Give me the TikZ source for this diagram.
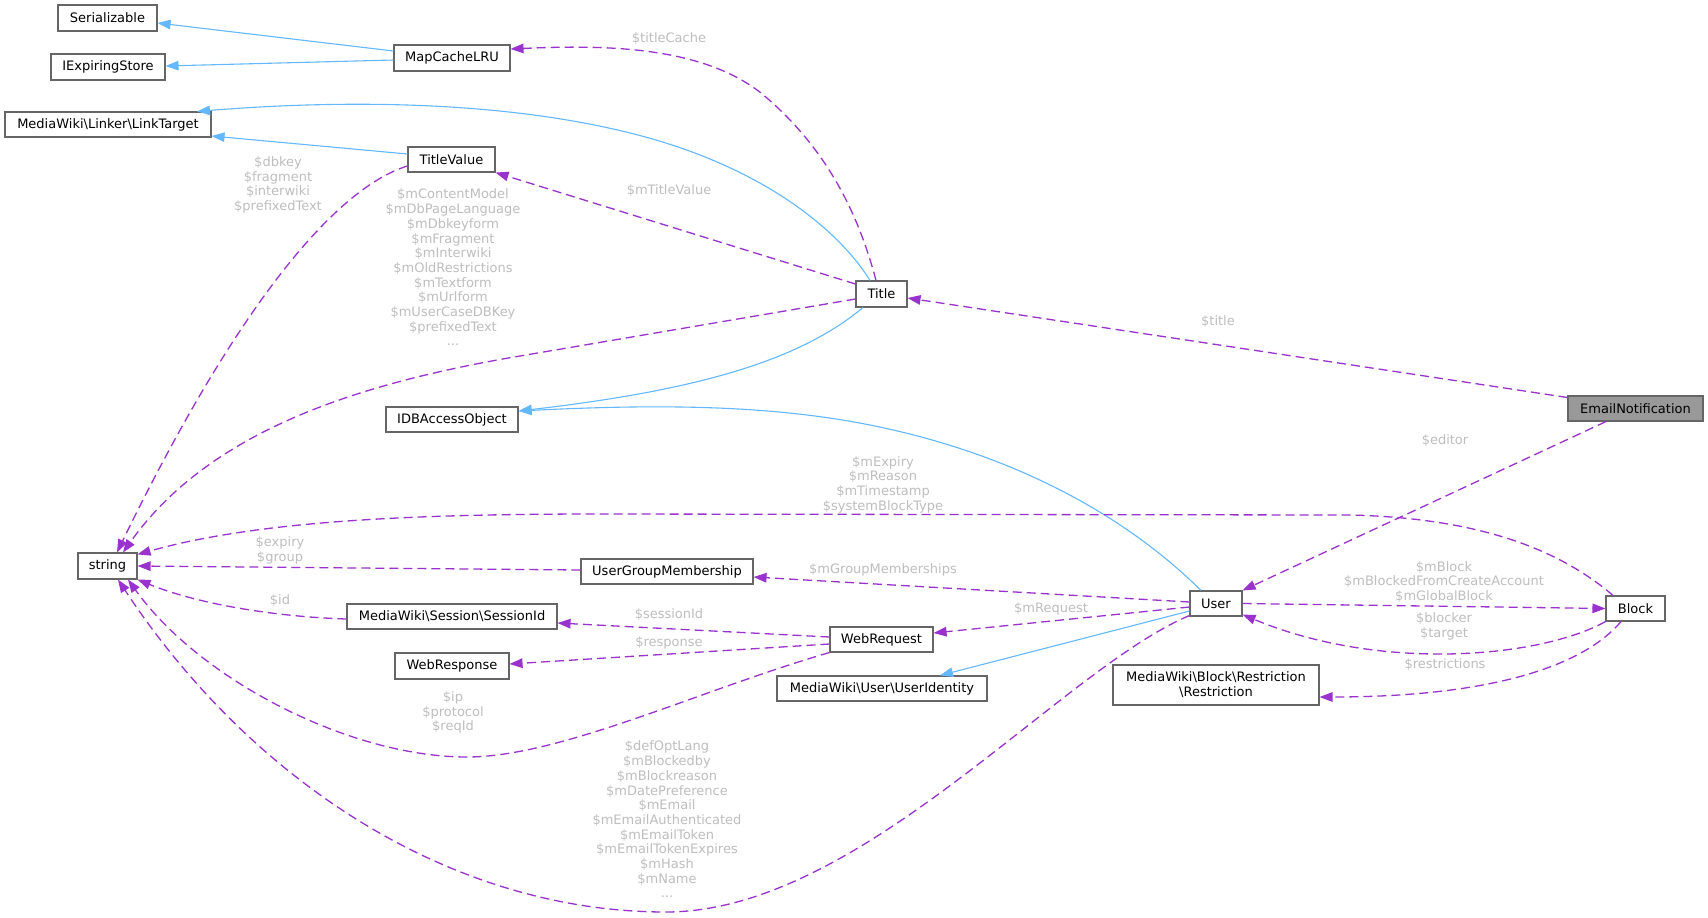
\documentclass[tikz,border=0pt]{standalone}
\usepackage{fontspec}
\setmainfont{DejaVu Sans}
\usetikzlibrary{arrows.meta,calc}
\definecolor{inhblue}{HTML}{63B8FF}
\definecolor{usepurple}{HTML}{9A32CD}
\definecolor{lblgray}{HTML}{BEBEBE}
\definecolor{nodeborder}{HTML}{666666}
\definecolor{focusfill}{HTML}{999999}
\begin{document}
\begin{tikzpicture}[x=1pt,y=-1pt,
  cls/.style={draw=nodeborder, line width=1.1pt, fill=white, inner sep=0pt,
    font=\fontsize{13}{14.7}\selectfont, align=center},
  inh/.style={draw=inhblue, line width=1.1pt, -{Triangle[length=13pt,width=9.5pt]}},
  use/.style={draw=usepurple, line width=1.3pt, dash pattern=on 9pt off 5pt,
    -{Triangle[length=13pt,width=9.5pt]}},
  lbl/.style={text=lblgray, font=\fontsize{13}{14.7}\selectfont, align=center, inner sep=0pt}]
\fill[white] (0,0) rectangle (1708,918);
\useasboundingbox (0,0) rectangle (1708,918);

% nodes
\node[cls, minimum width=99pt, minimum height=26pt] (ser) at (107.5,18) {Serializable};
\node[cls, minimum width=114pt, minimum height=26pt] (iexp) at (108,67) {IExpiringStore};
\node[cls, minimum width=206pt, minimum height=25pt] (lt) at (108,124.5) {MediaWiki\textbackslash Linker\textbackslash LinkTarget};
\node[cls, minimum width=116pt, minimum height=26pt] (mapc) at (452,58) {MapCacheLRU};
\node[cls, minimum width=87pt, minimum height=25pt] (tv) at (451.5,159.5) {TitleValue};
\node[cls, minimum width=51pt, minimum height=26pt] (title) at (881.5,294) {Title};
\node[cls, minimum width=132pt, minimum height=25pt] (idb) at (452,419.5) {IDBAccessObject};
\node[cls, minimum width=135pt, minimum height=25pt, fill=focusfill] (email) at (1635.5,408.5) {EmailNotification};
\node[cls, minimum width=59pt, minimum height=26pt] (str) at (107.5,566) {string};
\node[cls, minimum width=172pt, minimum height=25pt] (ugm) at (667,571.5) {UserGroupMembership};
\node[cls, minimum width=210pt, minimum height=25pt] (sess) at (452,616.5) {MediaWiki\textbackslash Session\textbackslash SessionId};
\node[cls, minimum width=114pt, minimum height=26pt] (wresp) at (452,666) {WebResponse};
\node[cls, minimum width=103pt, minimum height=25pt] (wreq) at (881.5,639.5) {WebRequest};
\node[cls, minimum width=210pt, minimum height=25pt] (uid) at (882,688.5) {MediaWiki\textbackslash User\textbackslash UserIdentity};
\node[cls, minimum width=52pt, minimum height=25pt] (user) at (1216,603.5) {User};
\node[cls, minimum width=206pt, minimum height=40pt] (restr) at (1216,685) {MediaWiki\textbackslash Block\textbackslash Restriction\\\textbackslash Restriction};
\node[cls, minimum width=59pt, minimum height=25pt] (block) at (1635.5,608.5) {Block};

% inheritance edges
\draw[inh] ($(mapc.west)+(0,-7)$) -- ($(ser.east)+(0,5)$);
\draw[inh] ($(mapc.west)+(0,2)$) -- ($(iexp.east)+(0,-1)$);
\draw[inh] ($(title.north)+(-11.5,0)$) .. controls (845,240) and (790,190) .. (700,155)
  .. controls (580,108) and (400,95) .. ($(lt.north)+(89,0)$);
\draw[inh] ($(tv.west)+(0,-5.5)$) -- ($(lt.east)+(0,11.5)$);
\draw[inh] ($(title.south)+(-18.5,0)$) .. controls (800,360) and (700,390) .. ($(idb.east)+(0,-8.5)$);
\draw[inh] ($(user.north)+(-15,0)$) .. controls (1130,520) and (1020,455) .. (870,425)
  .. controls (760,403) and (640,405) .. ($(idb.east)+(0,-8.5)$);
\draw[inh] ($(user.west)+(0,7.5)$) -- ($(uid.north)+(58,0)$);

% usage edges
\draw[use] ($(title.north)+(-5.5,0)$) .. controls (860,220) and (830,150) .. (761,93)
  .. controls (700,45) and (600,45) .. ($(mapc.east)+(0,-9)$);
\draw[use] ($(title.west)+(0,-10)$) -- (tv.south east);
\draw[use] ($(title.west)+(0,5)$) -- (520,356) .. controls (360,383) and (210,430) .. ($(str.north)+(15.5,0)$);
\draw[use] ($(tv.west)+(0,6.5)$) .. controls (330,190) and (230,320) .. ($(str.north)+(9.5,0)$);
\draw[use] ($(email.west)+(0,-11)$) -- ($(title.east)+(0,4)$);
\draw[use] ($(email.south)+(-29.5,0)$) -- (user.north east);
\draw[use] ($(block.north)+(-22.5,0)$) .. controls (1560,550) and (1480,518) .. (1350,515)
  -- (600,514) .. controls (420,514) and (260,520) .. ($(str.north east)+(0,2)$);
\draw[use] (user.east) -- (block.west);
\draw[use] (block.south west) .. controls (1540,658) and (1380,672) .. ($(user.south east)+(0,-2)$);
\draw[use] ($(block.south)+(-14.5,0)$) .. controls (1580,670) and (1480,697) .. ($(restr.east)+(0,12)$);
\draw[use] ($(user.west)+(0,-1.5)$) -- ($(ugm.east)+(0,5.5)$);
\draw[use] ($(user.west)+(0,3.5)$) -- ($(wreq.east)+(0,-6.5)$);
\draw[use] ($(user.south west)+(0,-1)$) .. controls (1060,670) and (860,912) .. (666,912)
  .. controls (450,912) and (250,780) .. ($(str.south)+(10.5,0)$);
\draw[use] ($(wreq.west)+(0,-2.5)$) -- ($(sess.east)+(0,6.5)$);
\draw[use] ($(wreq.west)+(0,4.5)$) -- ($(wresp.east)+(0,-2)$);
\draw[use] (wreq.south west) .. controls (700,690) and (560,757) .. (467,757)
  .. controls (350,757) and (200,680) .. ($(str.south)+(20.5,0)$);
\draw[use] ($(ugm.west)+(0,-1.5)$) -- (str.east);
\draw[use] ($(sess.west)+(0,2.5)$) .. controls (280,617) and (200,605) .. (str.south east);

% labels
\node[lbl] (l1) at (669,39) {\$titleCache};
\node[lbl] (l2) at (669,191) {\$mTitleValue};
\node[lbl] (l3) at (278,185) {\$dbkey\\\$fragment\\\$interwiki\\\$prefixedText};
\node[lbl] (l4) at (453,267.5) {\$mContentModel\\\$mDbPageLanguage\\\$mDbkeyform\\\$mFragment\\\$mInterwiki\\\$mOldRestrictions\\\$mTextform\\\$mUrlform\\\$mUserCaseDBKey\\\$prefixedText\\...};
\node[lbl] (l5) at (1218,322) {\$title};
\node[lbl] (l6) at (1445,441) {\$editor};
\node[lbl] (l7) at (883,484.5) {\$mExpiry\\\$mReason\\\$mTimestamp\\\$systemBlockType};
\node[lbl] (l8) at (280,550.5) {\$expiry\\\$group};
\node[lbl] (l9) at (280,601) {\$id};
\node[lbl] (l10) at (883,570) {\$mGroupMemberships};
\node[lbl] (l11) at (669,615) {\$sessionId};
\node[lbl] (l12) at (669,643) {\$response};
\node[lbl] (l13) at (1051,609) {\$mRequest};
\node[lbl] (l14) at (1444,582) {\$mBlock\\\$mBlockedFromCreateAccount\\\$mGlobalBlock};
\node[lbl] (l15) at (1444,626.5) {\$blocker\\\$target};
\node[lbl] (l16) at (1445,665) {\$restrictions};
\node[lbl] (l17) at (453,712.5) {\$ip\\\$protocol\\\$reqId};
\node[lbl] (l18) at (667,819.5) {\$defOptLang\\\$mBlockedby\\\$mBlockreason\\\$mDatePreference\\\$mEmail\\\$mEmailAuthenticated\\\$mEmailToken\\\$mEmailTokenExpires\\\$mHash\\\$mName\\...};
\end{tikzpicture}
\end{document}
